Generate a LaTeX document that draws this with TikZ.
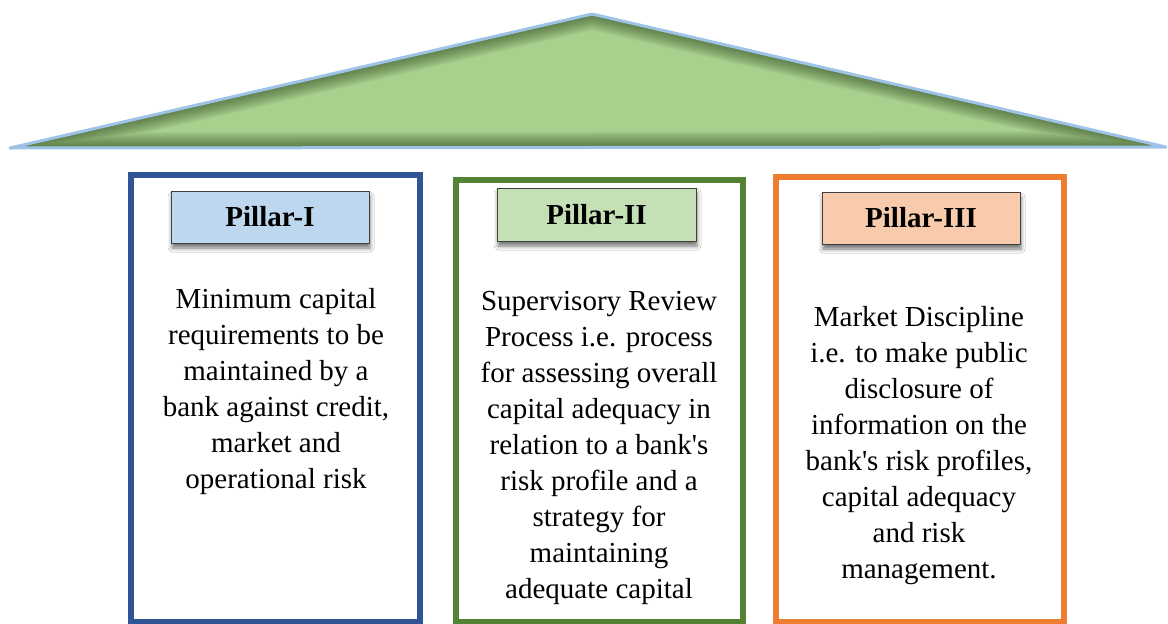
\documentclass[tikz,border=0pt]{standalone}
\usepackage{fontspec}
\setmainfont{Liberation Serif}[Ligatures=TeXOff]
\usetikzlibrary{shadows.blur}

\definecolor{roofgreen}{HTML}{A9D18E}
\definecolor{roofshade}{HTML}{263D17}
\definecolor{roofline}{HTML}{9DC3E6}
\definecolor{pillarblue}{HTML}{2F5597}
\definecolor{pillargreen}{HTML}{548235}
\definecolor{pillarorange}{HTML}{ED7D31}
\definecolor{fillblue}{HTML}{BDD7EE}
\definecolor{fillgreen}{HTML}{C5E0B4}
\definecolor{fillorange}{HTML}{F8CBAD}
\definecolor{labelgray}{HTML}{404040}

\begin{document}
\begin{tikzpicture}[x=1pt, y=-1pt,
  pillarframe/.style={draw, line width=6pt, fill=white, rectangle,
    outer sep=0pt, inner sep=0pt, anchor=north west},
  pillarlabel/.style={draw=labelgray, line width=1pt, rectangle,
    minimum width=198pt, minimum height=52pt, inner sep=0pt,
    font=\fontsize{29}{34}\selectfont\bfseries,
    blur shadow={shadow xshift=1pt, shadow yshift=-5pt,
      shadow blur radius=4pt, shadow opacity=55}},
  pillartext/.style={align=center, inner sep=0pt, anchor=base,
    font=\fontsize{29}{36}\selectfont}]

\useasboundingbox (0,0) rectangle (1168,624);

% roof with a soft inner shadow along its edges
\coordinate (eaveL) at (10,148);
\coordinate (apex) at (592,14);
\coordinate (eaveR) at (1166,147);
\fill[roofgreen] (eaveL) -- (apex) -- (eaveR) -- cycle;
\begin{scope}
  \clip (eaveL) -- (apex) -- (eaveR) -- cycle;
  \foreach \w in {32,30,...,2}
    \draw[line width=\w pt, roofshade, opacity=0.045, line join=miter]
      (eaveL) -- (apex) -- (eaveR) -- cycle;
\end{scope}
\draw[roofline, line width=3pt, line join=round]
  (eaveL) -- (apex) -- (eaveR) -- cycle;

% pillar frames
\node[pillarframe, draw=pillarblue, minimum width=289pt, minimum height=447pt]
  (frameA) at (131,175) {};
\node[pillarframe, draw=pillargreen, minimum width=287.5pt, minimum height=442pt]
  (frameB) at (455.5,180) {};
\node[pillarframe, draw=pillarorange, minimum width=288pt, minimum height=445pt]
  (frameC) at (776,177) {};

% pillar labels
\node[pillarlabel, fill=fillblue] (labelA) at (270,217) {Pillar-I};
\node[pillarlabel, fill=fillgreen, minimum width=199pt, minimum height=53pt]
  (labelB) at (596.5,214.5) {Pillar-II};
\node[pillarlabel, fill=fillorange] (labelC) at (921,218) {Pillar-III};

% pillar descriptions (anchored at the baseline of the last line)
\node[pillartext] (textA) at (276,488)
  {Minimum capital\\requirements to be\\maintained by a\\bank against credit,\\market and\\operational risk};
\node[pillartext] (textB) at (599,598)
  {Supervisory Review\\Process i.e. process\\for assessing overall\\capital adequacy in\\relation to a bank's\\risk profile and a\\strategy for\\maintaining\\adequate capital};
\node[pillartext] (textC) at (919,578)
  {Market Discipline\\i.e. to make public\\disclosure of\\information on the\\bank's risk profiles,\\capital adequacy\\and risk\\management.};
\end{tikzpicture}
\end{document}
